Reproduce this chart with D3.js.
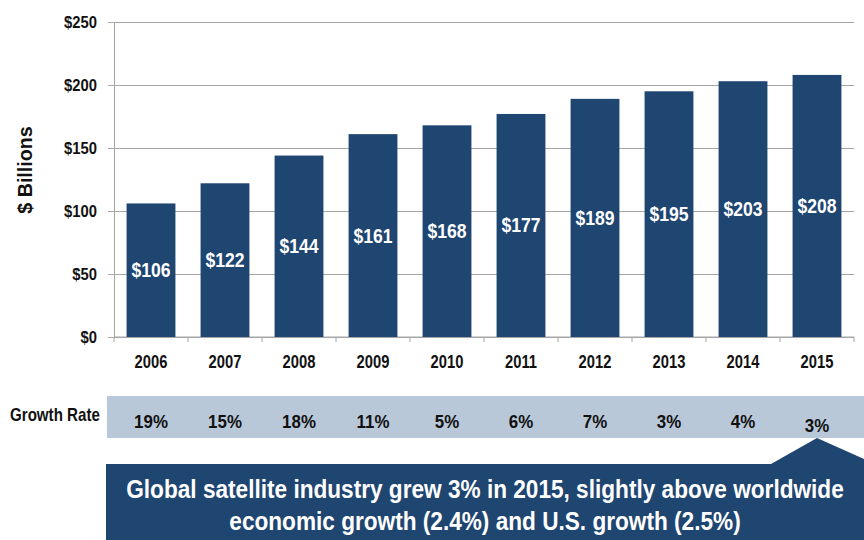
<!DOCTYPE html>
<html>
<head>
<meta charset="utf-8">
<script src="https://cdn.jsdelivr.net/npm/d3@7"></script>
<style>
  body { margin: 0; background: #fff; }
  svg text { font-family: "Liberation Sans Narrow", "Arial Narrow", "Liberation Sans", Arial, sans-serif; font-weight: bold; }
  .grid line { stroke: #a6a6a6; stroke-width: 1; }
  .grid .domain { display: none; }
  .yaxis .domain, .yaxis line { stroke: #a6a6a6; }
</style>
</head>
<body>
<svg id="chart" width="864" height="540"></svg>
<script>
var years = ["2006", "2007", "2008", "2009", "2010", "2011", "2012", "2013", "2014", "2015"];
var revenue = [106, 122, 144, 161, 168, 177, 189, 195, 203, 208];
var growth = ["19%", "15%", "18%", "11%", "5%", "6%", "7%", "3%", "4%", "3%"];
var yTicks = [0, 50, 100, 150, 200, 250];
var callout = ["Global satellite industry grew 3% in 2015, slightly above worldwide",
               "economic growth (2.4%) and U.S. growth (2.5%)"];

var navy = "#1f4571";
var svg = d3.select("#chart");

// no narrow font installed, so squeeze text horizontally around its anchor
function narrow(sel, s) {
    sel.each(function() {
        var t = d3.select(this);
        var x = +t.attr("x") || 0, y = +t.attr("y") || 0;
        t.attr("x", 0).attr("y", 0)
         .attr("transform", "translate(" + x + "," + y + ") scale(" + s + ",1)");
    });
}

// ======================================================
// SCALES
var xScale = d3.scaleBand()
    .domain(years)
    .range([114, 854])
    .paddingInner(0.34)
    .paddingOuter(0.17);
var yScale = d3.scaleLinear()
    .domain([0, 250])
    .range([337, 22]);

// gridlines
svg.append("g")
    .attr("class", "grid")
    .attr("transform", "translate(114,0)")
    .call(d3.axisLeft(yScale).tickValues(yTicks).tickSize(-740).tickFormat(""));

// y axis
var yAxis = svg.append("g")
    .attr("class", "yaxis")
    .attr("transform", "translate(114,0)")
    .call(d3.axisLeft(yScale).tickValues(yTicks).tickSize(6).tickPadding(11)
        .tickFormat(function(d) { return "$" + d; }));
yAxis.selectAll("text").style("font-size", "17px").attr("fill", "#111").call(narrow, 0.87);

// x axis baseline + category boundary ticks
var step = xScale.step();
var bounds = years.map(function(d) { return xScale(d) - step * xScale.paddingInner() / 2; });
bounds.push(xScale.range()[1]);
svg.append("line")
    .attr("x1", 114).attr("x2", 854)
    .attr("y1", yScale(0)).attr("y2", yScale(0))
    .attr("stroke", "#a6a6a6");
svg.selectAll(".btick")
    .data(bounds)
    .enter().append("line")
    .attr("class", "btick")
    .attr("x1", function(d) { return d; }).attr("x2", function(d) { return d; })
    .attr("y1", yScale(0)).attr("y2", yScale(0) + 5)
    .attr("stroke", "#a6a6a6");

// year labels
svg.append("g")
    .attr("transform", "translate(0," + yScale(0) + ")")
    .call(d3.axisBottom(xScale).tickSize(0).tickPadding(18))
    .call(function(g) { g.select(".domain").remove(); })
    .selectAll("text")
    .style("font-size", "18px")
    .attr("fill", "#111")
    .call(narrow, 0.82);

// y axis title
svg.append("text")
    .attr("transform", "translate(32,170) rotate(-90) scale(0.96,1)")
    .attr("text-anchor", "middle")
    .style("font-size", "20.5px")
    .attr("fill", "#111")
    .text("$ Billions");

// bars
svg.selectAll(".bar")
    .data(revenue)
    .enter().append("rect")
    .attr("class", "bar")
    .attr("fill", navy)
    .attr("x", function(d, i) { return xScale(years[i]); })
    .attr("width", xScale.bandwidth())
    .attr("y", function(d) { return yScale(d); })
    .attr("height", function(d) { return yScale(0) - yScale(d); });

// value labels in the middle of each bar
svg.selectAll(".val")
    .data(revenue)
    .enter().append("text")
    .attr("class", "val")
    .attr("x", function(d, i) { return xScale(years[i]) + xScale.bandwidth() / 2; })
    .attr("y", function(d) { return (yScale(d) + yScale(0)) / 2 + 7; })
    .attr("text-anchor", "middle")
    .attr("fill", "#fff")
    .style("font-size", "20px")
    .text(function(d) { return "$" + d; })
    .call(narrow, 0.88);

// growth rate band
svg.append("rect")
    .attr("x", 107).attr("y", 396)
    .attr("width", 757).attr("height", 42)
    .attr("fill", "#b9c8d9");
svg.append("text")
    .attr("x", 10).attr("y", 421)
    .style("font-size", "18px")
    .attr("fill", "#111")
    .text("Growth Rate")
    .call(narrow, 0.84);
svg.selectAll(".gr")
    .data(growth)
    .enter().append("text")
    .attr("class", "gr")
    .attr("x", function(d, i) { return xScale(years[i]) + xScale.bandwidth() / 2; })
    .attr("y", function(d, i) { return i === growth.length - 1 ? 432 : 428; })
    .attr("text-anchor", "middle")
    .attr("fill", "#111")
    .style("font-size", "19px")
    .text(function(d) { return d; })
    .call(narrow, 0.89);

// callout box with arrow pointing at 2015
var tip = xScale("2015") + xScale.bandwidth() / 2;
svg.append("path")
    .attr("d", "M106,464 L" + (tip - 46) + ",464 L" + tip + ",438 L864,459 L864,540 L106,540 Z")
    .attr("fill", navy);
svg.selectAll(".call")
    .data(callout)
    .enter().append("text")
    .attr("class", "call")
    .attr("x", 485)
    .attr("y", function(d, i) { return 498 + i * 32; })
    .attr("text-anchor", "middle")
    .attr("fill", "#fff")
    .style("font-size", "25px")
    .text(function(d) { return d; })
    .call(narrow, 0.905);
</script>
</body>
</html>
